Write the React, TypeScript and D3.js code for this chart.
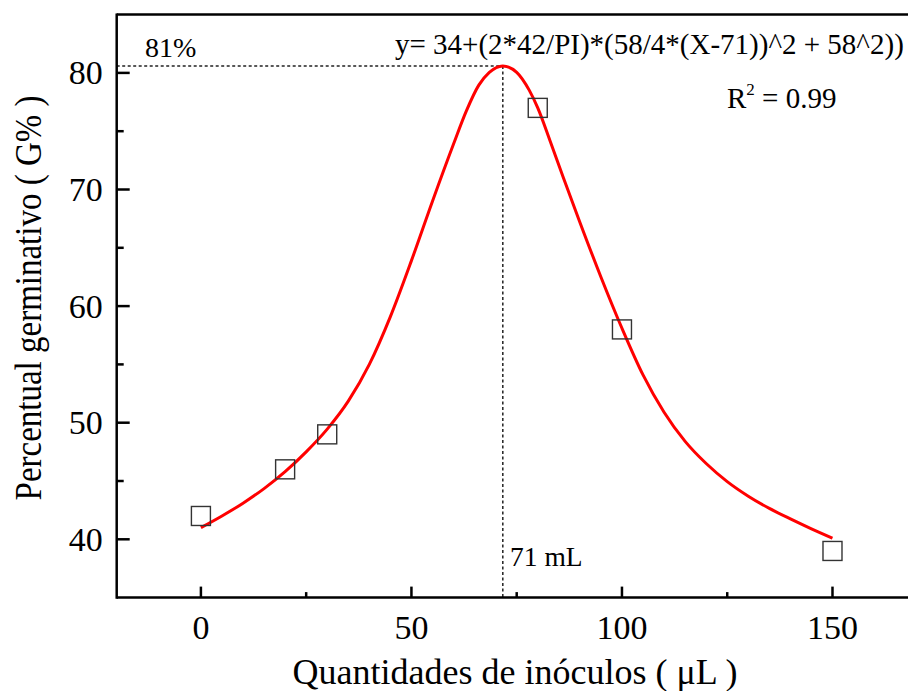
import React from "react";
import * as d3 from "d3";

const obsX = [0, 20, 30, 80, 100, 150];
const obsY = [42, 46, 49, 77, 58, 39];

const fitX = [0, 5, 10, 15, 20, 25, 30, 35, 40, 45, 50, 55, 60, 63, 66, 68.5, 71.7, 75, 78, 80, 83, 86, 90, 95, 100, 105, 110, 115, 120, 125, 130, 135, 140, 145, 150];
const fitY = [41.0, 42.0, 43.1, 44.35, 45.8, 47.5, 49.45, 51.85, 55.0, 59.1, 63.9, 69.0, 73.9, 76.7, 78.95, 80.05, 80.6, 80.05, 78.5, 77.0, 74.1, 71.1, 67.2, 62.5, 58.1, 54.1, 50.9, 48.4, 46.5, 44.95, 43.7, 42.65, 41.75, 40.9, 40.1];

const xMajor = [0, 50, 100, 150];
const xMinor = [25, 75, 125];
const yMajor = [40, 50, 60, 70, 80];
const yMinor = [45, 55, 65, 75];

const peakX = 71.7;
const peakY = 80.6;

const FONT = "'Liberation Serif', 'Times New Roman', serif";

export default function App() {
  const W = 908, H = 691;
  const x = d3.scaleLinear().domain([-20, 170]).range([116.7, 916.7]);
  const y = d3.scaleLinear().domain([35, 85]).range([597.6, 14.6]);
  const line = d3
    .line<number>()
    .x((_, i) => x(fitX[i]))
    .y((d) => y(d))
    .curve(d3.curveMonotoneX);
  const sq = 19;
  const x0 = x(-20), y0 = y(35), yTop = y(85);
  return (
    <svg width={W} height={H} style={{ position: "absolute", left: 0, top: 0, background: "#fff" }} fontFamily={FONT}>
      <rect x={0} y={0} width={W} height={H} fill="#fff" />
      {/* dotted guide lines */}
      <line x1={x0} x2={x(peakX)} y1={y(peakY)} y2={y(peakY)} stroke="#222" strokeWidth={1.5} strokeDasharray="3,2.5" />
      <line x1={x(peakX)} x2={x(peakX)} y1={y(peakY)} y2={y0} stroke="#222" strokeWidth={1.5} strokeDasharray="3,2.5" />
      {/* fitted curve */}
      <path d={line(fitY) || ""} fill="none" stroke="#ff0000" strokeWidth={3} strokeLinejoin="round" />
      {/* observed points */}
      {obsX.map((v, i) => (
        <rect key={i} x={x(v) - sq / 2} y={y(obsY[i]) - sq / 2} width={sq} height={sq} fill="none" stroke="#333" strokeWidth={1.4} />
      ))}
      {/* axes frame */}
      <line x1={x0} x2={W} y1={yTop} y2={yTop} stroke="#000" strokeWidth={2.5} />
      <line x1={x0} x2={W} y1={y0} y2={y0} stroke="#000" strokeWidth={2.5} />
      <line x1={x0} x2={x0} y1={yTop - 1.2} y2={y0 + 1.2} stroke="#000" strokeWidth={2.5} />
      {xMajor.map((v) => (
        <g key={"xm" + v}>
          <line x1={x(v)} x2={x(v)} y1={y0} y2={y0 - 11} stroke="#000" strokeWidth={2.5} />
          <text x={x(v)} y={y0 + 41} textAnchor="middle" fontSize={34}>{v}</text>
        </g>
      ))}
      {xMinor.map((v) => (
        <line key={"xn" + v} x1={x(v)} x2={x(v)} y1={y0} y2={y0 - 5.5} stroke="#000" strokeWidth={2.5} />
      ))}
      {yMajor.map((v) => (
        <g key={"ym" + v}>
          <line x1={x0} x2={x0 + 13} y1={y(v)} y2={y(v)} stroke="#000" strokeWidth={2.5} />
          <text x={x0 - 14} y={y(v) + 11.5} textAnchor="end" fontSize={34}>{v}</text>
        </g>
      ))}
      {yMinor.map((v) => (
        <line key={"yn" + v} x1={x0} x2={x0 + 7} y1={y(v)} y2={y(v)} stroke="#000" strokeWidth={2.5} />
      ))}
      {/* annotations */}
      <text x={145} y={57} fontSize={28}>81%</text>
      <text x={395} y={54} fontSize={29}>y= 34+(2*42/PI)*(58/4*(X-71))^2 + 58^2))</text>
      <text x={727} y={108} fontSize={29}>
        R<tspan dy={-13} fontSize={17}>2</tspan><tspan dy={13}> = 0.99</tspan>
      </text>
      <text x={510} y={566} fontSize={27.5}>71 mL</text>
      {/* axis titles */}
      <text x={515} y={684} textAnchor="middle" fontSize={36}>Quantidades de inóculos ( μL )</text>
      <text transform={`translate(41, 298) rotate(-90) scale(1, 1.15)`} textAnchor="middle" fontSize={33}>Percentual germinativo ( G% )</text>
    </svg>
  );
}
